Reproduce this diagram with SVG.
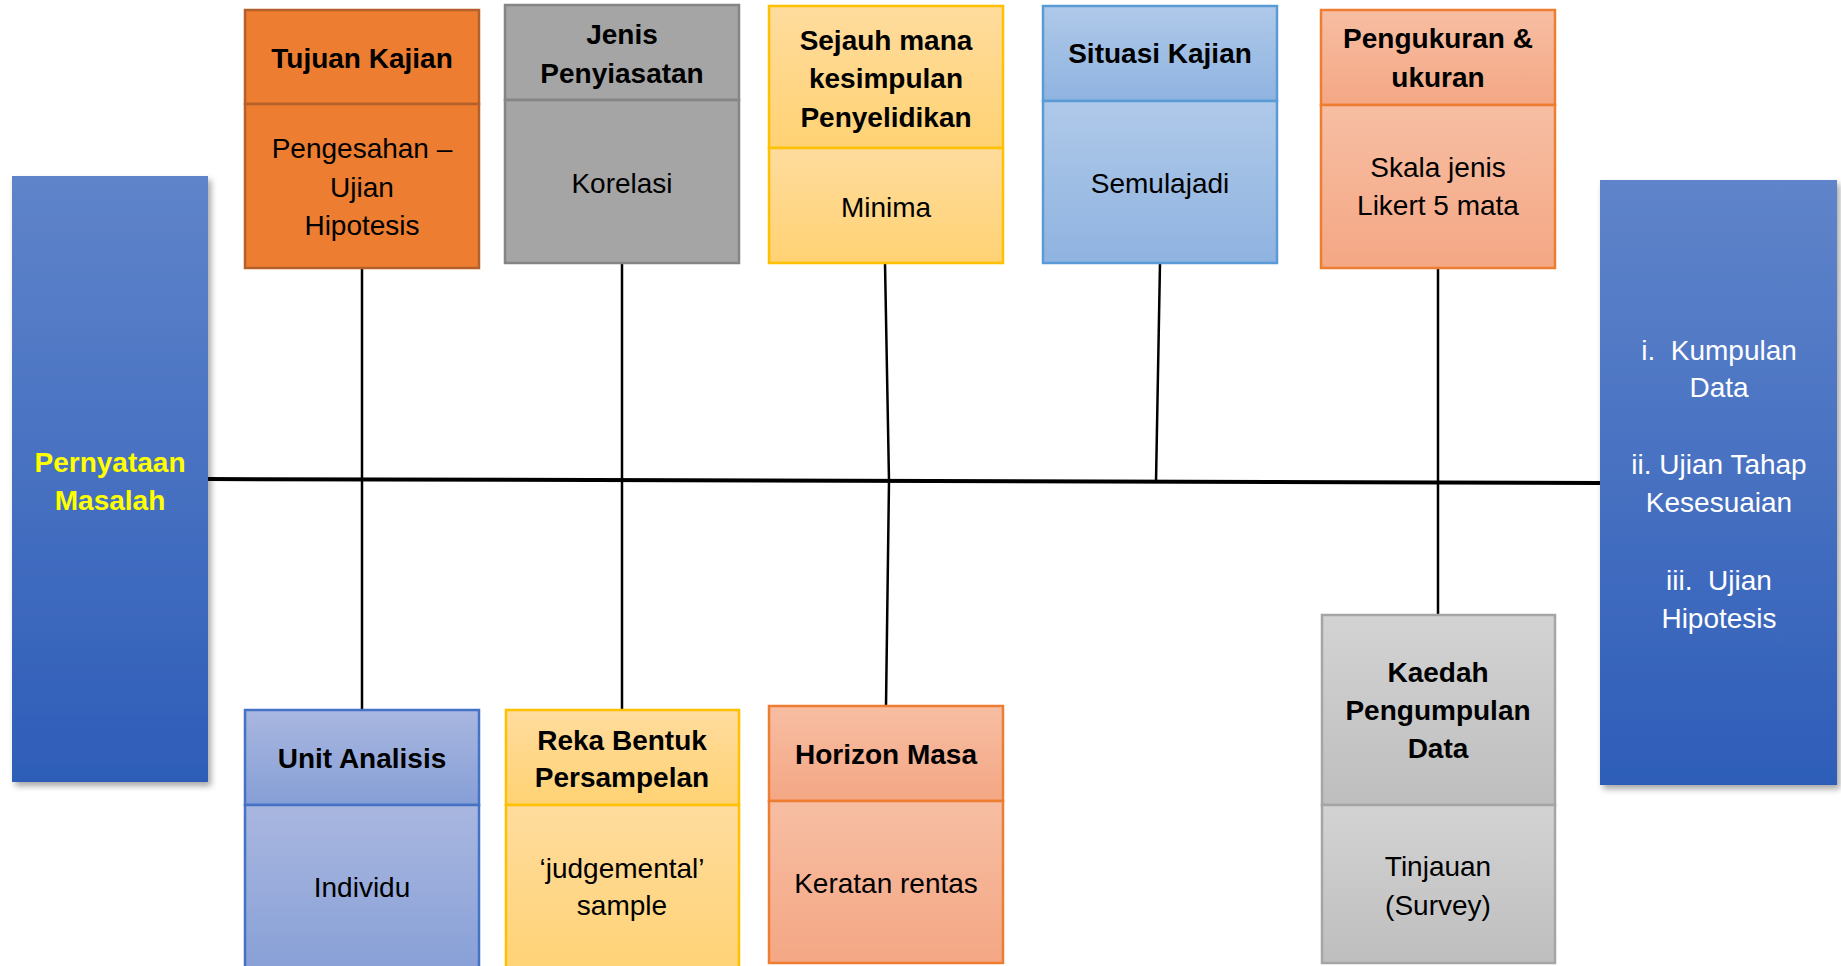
<svg xmlns="http://www.w3.org/2000/svg" width="1841" height="966" viewBox="0 0 1841 966">
<defs>
<linearGradient id="gBlue" x1="0" y1="0" x2="0" y2="1"><stop offset="0" stop-color="#5F84CA"/><stop offset="1" stop-color="#2E5DB8"/></linearGradient>
<linearGradient id="gSalmon" x1="0" y1="0" x2="0" y2="1"><stop offset="0" stop-color="#F7BEA3"/><stop offset="1" stop-color="#F4A784"/></linearGradient>
<linearGradient id="gYellow" x1="0" y1="0" x2="0" y2="1"><stop offset="0" stop-color="#FFDC9E"/><stop offset="1" stop-color="#FFD273"/></linearGradient>
<linearGradient id="gSky" x1="0" y1="0" x2="0" y2="1"><stop offset="0" stop-color="#AFC9E9"/><stop offset="1" stop-color="#8FB3E0"/></linearGradient>
<linearGradient id="gPeri" x1="0" y1="0" x2="0" y2="1"><stop offset="0" stop-color="#A9B7E0"/><stop offset="1" stop-color="#869FD6"/></linearGradient>
<linearGradient id="gGray" x1="0" y1="0" x2="0" y2="1"><stop offset="0" stop-color="#D3D3D3"/><stop offset="1" stop-color="#BEBEBE"/></linearGradient>
<filter id="shadow" x="-10%" y="-5%" width="125%" height="115%"><feDropShadow dx="3" dy="4" stdDeviation="3" flood-color="#000" flood-opacity="0.35"/></filter>
<style>
text{font-family:"Liberation Sans",Arial,sans-serif;text-anchor:middle;fill:#000;}
.h{font-weight:bold;font-size:28px;}
.b{font-size:28px;}
.big{font-weight:bold;font-size:28px;fill:#FFFF00;}
.w{font-size:28px;fill:#FFFFFF;white-space:pre;}
.box{stroke-width:2.5;}
.orange{fill:#ED7D31;stroke:#B5602A;}
.gray{fill:#A5A5A5;stroke:#858585;}
.yellow{fill:url(#gYellow);stroke:#FFC000;}
.sky{fill:url(#gSky);stroke:#5B9BD5;}
.salmon{fill:url(#gSalmon);stroke:#ED7D31;}
.peri{fill:url(#gPeri);stroke:#4472C4;}
.lgray{fill:url(#gGray);stroke:#A5A5A5;}
.conn{stroke:#000;fill:none;stroke-width:2.5;}
</style>
</defs>
<rect width="1841" height="966" fill="#FFFFFF"/>

<g id="connectors">
<line class="conn" x1="208" y1="479" x2="1600" y2="483" style="stroke-width:4"/>
<line class="conn" x1="362" y1="268" x2="362" y2="710"/>
<line class="conn" x1="622" y1="263" x2="622" y2="710"/>
<polyline class="conn" points="885,263 889,481 886,706"/>
<line class="conn" x1="1160" y1="263" x2="1156" y2="482"/>
<line class="conn" x1="1438" y1="268" x2="1438" y2="615"/>
</g>

<g id="pernyataan-masalah">
<rect x="12" y="176" width="196" height="606" fill="url(#gBlue)" filter="url(#shadow)"/>
<text class="big" x="110" y="472">Pernyataan</text>
<text class="big" x="110" y="510">Masalah</text>
</g>

<g id="hasil">
<rect x="1600" y="180" width="237" height="605" fill="url(#gBlue)" filter="url(#shadow)"/>
<text class="w" x="1719" y="360">i.  Kumpulan</text>
<text class="w" x="1719" y="397">Data</text>
<text class="w" x="1719" y="474">ii. Ujian Tahap</text>
<text class="w" x="1719" y="512">Kesesuaian</text>
<text class="w" x="1719" y="590">iii.  Ujian</text>
<text class="w" x="1719" y="628">Hipotesis</text>
</g>

<g id="tujuan-kajian">
<rect class="box orange" x="245" y="10" width="234" height="94"/>
<rect class="box orange" x="245" y="104" width="234" height="164"/>
<text class="h" x="362" y="68">Tujuan Kajian</text>
<text class="b" x="362" y="158">Pengesahan –</text>
<text class="b" x="362" y="197">Ujian</text>
<text class="b" x="362" y="235">Hipotesis</text>
</g>

<g id="jenis-penyiasatan">
<rect class="box gray" x="505" y="5" width="234" height="95"/>
<rect class="box gray" x="505" y="100" width="234" height="163"/>
<text class="h" x="622" y="44">Jenis</text>
<text class="h" x="622" y="83">Penyiasatan</text>
<text class="b" x="622" y="193">Korelasi</text>
</g>

<g id="sejauh-mana">
<rect class="box yellow" x="769" y="6" width="234" height="142"/>
<rect class="box yellow" x="769" y="148" width="234" height="115"/>
<text class="h" x="886" y="50">Sejauh mana</text>
<text class="h" x="886" y="88">kesimpulan</text>
<text class="h" x="886" y="127">Penyelidikan</text>
<text class="b" x="886" y="217">Minima</text>
</g>

<g id="situasi-kajian">
<rect class="box sky" x="1043" y="6" width="234" height="95"/>
<rect class="box sky" x="1043" y="101" width="234" height="162"/>
<text class="h" x="1160" y="63">Situasi Kajian</text>
<text class="b" x="1160" y="193">Semulajadi</text>
</g>

<g id="pengukuran">
<rect class="box salmon" x="1321" y="10" width="234" height="95"/>
<rect class="box salmon" x="1321" y="105" width="234" height="163"/>
<text class="h" x="1438" y="48">Pengukuran &amp;</text>
<text class="h" x="1438" y="87">ukuran</text>
<text class="b" x="1438" y="177">Skala jenis</text>
<text class="b" x="1438" y="215">Likert 5 mata</text>
</g>

<g id="unit-analisis">
<rect class="box peri" x="245" y="710" width="234" height="95"/>
<rect class="box peri" x="245" y="805" width="234" height="175"/>
<text class="h" x="362" y="768">Unit Analisis</text>
<text class="b" x="362" y="897">Individu</text>
</g>

<g id="reka-bentuk">
<rect class="box yellow" x="506" y="710" width="233" height="95"/>
<rect class="box yellow" x="506" y="805" width="233" height="175"/>
<text class="h" x="622" y="750">Reka Bentuk</text>
<text class="h" x="622" y="787">Persampelan</text>
<text class="b" x="622" y="878">‘judgemental’</text>
<text class="b" x="622" y="915">sample</text>
</g>

<g id="horizon-masa">
<rect class="box salmon" x="769" y="706" width="234" height="95"/>
<rect class="box salmon" x="769" y="801" width="234" height="162"/>
<text class="h" x="886" y="764">Horizon Masa</text>
<text class="b" x="886" y="893">Keratan rentas</text>
</g>

<g id="kaedah">
<rect class="box lgray" x="1322" y="615" width="233" height="190"/>
<rect class="box lgray" x="1322" y="805" width="233" height="158"/>
<text class="h" x="1438" y="682">Kaedah</text>
<text class="h" x="1438" y="720">Pengumpulan</text>
<text class="h" x="1438" y="758">Data</text>
<text class="b" x="1438" y="876">Tinjauan</text>
<text class="b" x="1438" y="915">(Survey)</text>
</g>
</svg>
